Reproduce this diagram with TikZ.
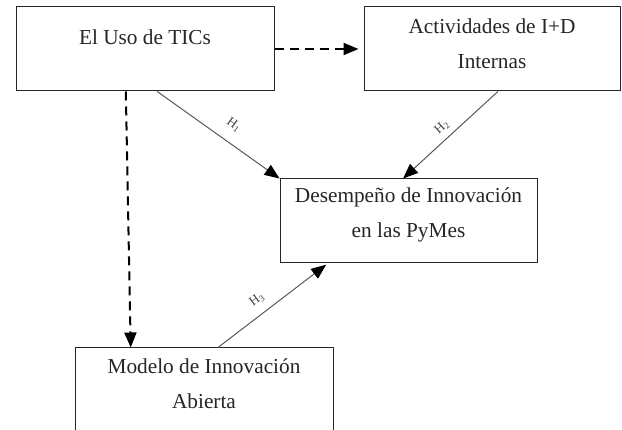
\documentclass[tikz,border=0pt]{standalone}
\usepackage{fontspec}
\setmainfont{Liberation Serif}
\usetikzlibrary{arrows.meta,calc}
\begin{document}
\begin{tikzpicture}[x=1pt,y=-1pt,
  box/.style={draw=black!85,line width=1pt,inner sep=0pt,minimum height=84pt},
  lbl/.style={font=\fontsize{21.3}{35}\selectfont,align=center,inner sep=0pt,text=black!85},
  hlbl/.style={font=\fontsize{13}{14}\selectfont,inner sep=0pt,text=black!75},
  tip/.style={-{Triangle[length=15pt,width=12pt,color=black]}},
  hyp/.style={tip,draw=black!65,line width=1pt},
  dsh/.style={tip,draw=black,line width=2pt,dash pattern=on 9pt off 6pt}]
\useasboundingbox[fill=white] (0,0) rectangle (622,430);
\clip (0,0) rectangle (622,430);
% boxes
\node[box,minimum width=258pt] (uso) at (145,49) {};
\node[box,minimum width=256pt] (act) at (492,49) {};
\node[box,minimum width=257pt] (des) at (408.5,221) {};
\node[box,minimum width=258pt,minimum height=92pt] (mod) at (204,394) {};
% texts
\node[lbl] (tuso) at (145,37) {El Uso de TICs};
\node[lbl] (tact) at (492,44) {Actividades de I+D\\Internas};
\node[lbl] (tdes) at (408.5,215) {Desempeño de Innovación\\en las PyMes};
\node[lbl] (tmod) at (204,383.5) {Modelo de Innovación\\Abierta};
% dashed connectors
\draw[dsh,shorten >=5pt] (uso.east) -- (act.west);
\draw[dsh] ($(uso.south west)!0.426!(uso.south east)$) -- ($(mod.north west)!0.217!(mod.north east)$);
% hypothesis connectors
\draw[hyp] ($(uso.south west)!0.547!(uso.south east)$) -- (des.north west);
\draw[hyp] ($(act.south west)!0.523!(act.south east)$) -- ($(des.north west)!0.479!(des.north east)$);
\draw[hyp,shorten >=2pt] ($(mod.north west)!0.554!(mod.north east)$) -- ($(des.south west)!0.187!(des.south east)$);
% labels
\node[hlbl,rotate=-35.6] (h1) at (234,125) {H\textsubscript{1}};
\node[hlbl,rotate=42.5] (h2) at (442,127) {H\textsubscript{2}};
\node[hlbl,rotate=37] (h3) at (257,300) {H\textsubscript{3}};
\end{tikzpicture}
\end{document}
